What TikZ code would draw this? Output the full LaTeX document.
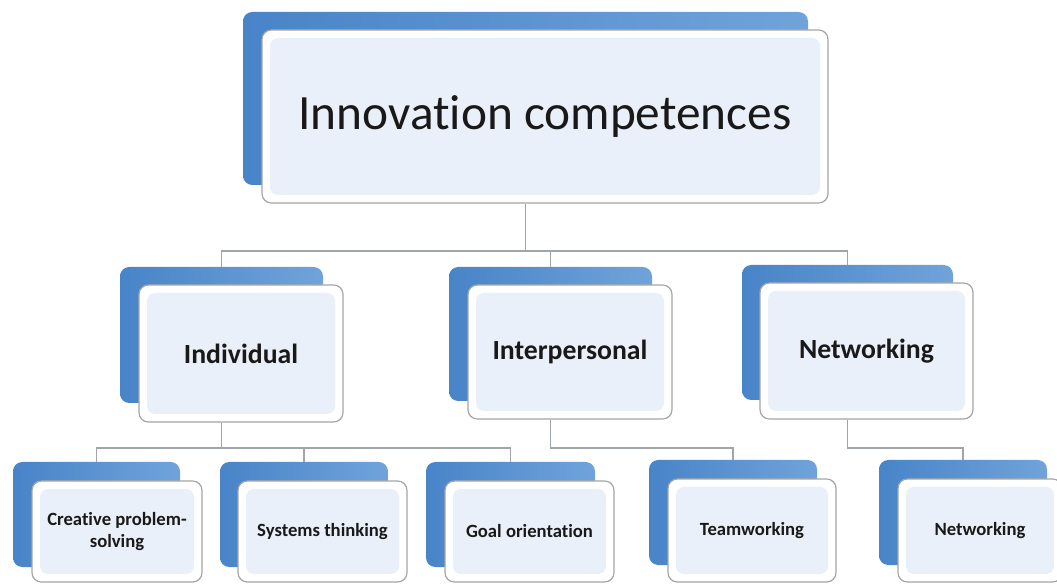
\documentclass[tikz,border=0pt]{standalone}
\usepackage{fontspec}
\setmainfont[Ligatures={NoCommon}]{Carlito}
\definecolor{blueA}{RGB}{72,132,200}
\definecolor{blueB}{RGB}{112,163,218}
\definecolor{innerblue}{RGB}{234,240,249}
\definecolor{edgegray}{RGB}{165,165,165}
\definecolor{linegray}{RGB}{160,165,170}
\definecolor{txt}{RGB}{25,25,25}
\tikzset{
  back/.style={left color=blueA, right color=blueB, draw=none, rounded corners=7pt, inner sep=0pt},
  front/.style={fill=white, draw=edgegray, line width=0.9pt, rounded corners=7pt, inner sep=0pt,
    text=txt, align=center,
    path picture={\fill[innerblue, rounded corners=6pt]
      ([shift={(6pt,6pt)}]path picture bounding box.south west) rectangle
      ([shift={(-6pt,-6pt)}]path picture bounding box.north east);}},
  titlefont/.style={font=\fontsize{37pt}{40pt}\selectfont},
  midfont/.style={font=\fontsize{20.8pt}{24pt}\selectfont\bfseries},
  lowfont/.style={font=\fontsize{14pt}{17pt}\selectfont\bfseries},
  conn/.style={draw=linegray, line width=0.9pt}
}
% #1 style, #2 name, #3 x1, #4 y1, #5 x2, #6 y2 (pixels), #7 text
\newcommand\cardnode[7]{%
  \pgfmathsetmacro\cardw{(#5-#3)*0.75}%
  \pgfmathsetmacro\cardh{(#6-#4)*0.75}%
  \node[#1, minimum width=\cardw pt, minimum height=\cardh pt] (#2) at ({(#3+#5)/2},{(#4+#6)/2}) {#7};}
\begin{document}
\begin{tikzpicture}[x=0.75pt,y=-0.75pt]
\useasboundingbox[fill=white] (0,0) rectangle (1057,584);
% top
\cardnode{back}{b0}{243}{12}{808}{185}{}
\cardnode{front,titlefont}{f0}{262}{30}{828}{203}{Innovation competences}
% middle
\cardnode{back}{b1}{120}{267}{323}{403}{}
\cardnode{front,midfont}{f1}{139}{285}{343}{422}{Individual}
\cardnode{back}{b2}{449}{267}{652}{401}{}
\cardnode{front,midfont}{f2}{468}{285}{672}{419}{Interpersonal}
\cardnode{back}{b3}{742}{265}{953}{400}{}
\cardnode{front,midfont}{f3}{760}{283}{973}{419}{Networking}
% bottom
\cardnode{back}{b4}{13}{462}{180}{567}{}
\cardnode{front,lowfont}{f4}{32}{481}{202}{582}{Creative problem-\\solving}
\cardnode{back}{b5}{220}{462}{388}{567}{}
\cardnode{front,lowfont}{f5}{238}{481}{407}{582}{Systems thinking}
\cardnode{back}{b6}{426}{462}{595}{567}{}
\cardnode{front,lowfont}{f6}{445}{481}{614}{582}{Goal orientation}
\cardnode{back}{b7}{649}{460}{817}{565}{}
\cardnode{front,lowfont}{f7}{668}{479}{836}{582}{Teamworking}
\cardnode{back}{b8}{879}{460}{1047}{565}{}
\cardnode{front,lowfont}{f8}{898}{479}{1062}{582}{Networking}
% connectors level 1
\draw[conn] (b0.center |- f0.south) -- (b0.center |- 0,251);
\draw[conn] (b1.north) -- (b1.north |- 0,251) -- (b3.north |- 0,251) -- (b3.north);
\draw[conn] (b2.north) -- (b2.north |- 0,251);
% connectors level 2
\draw[conn] (b1.center |- f1.south) -- (b1.center |- 0,448);
\draw[conn] (b4.north) -- (b4.north |- 0,448) -- (b6.north |- 0,448) -- (b6.north);
\draw[conn] (b5.north) -- (b5.north |- 0,448);
\draw[conn] (b2.center |- f2.south) -- (b2.center |- 0,448) -| (b7.north);
\draw[conn] (b3.center |- f3.south) -- (b3.center |- 0,448) -| (b8.north);
\end{tikzpicture}
\end{document}
